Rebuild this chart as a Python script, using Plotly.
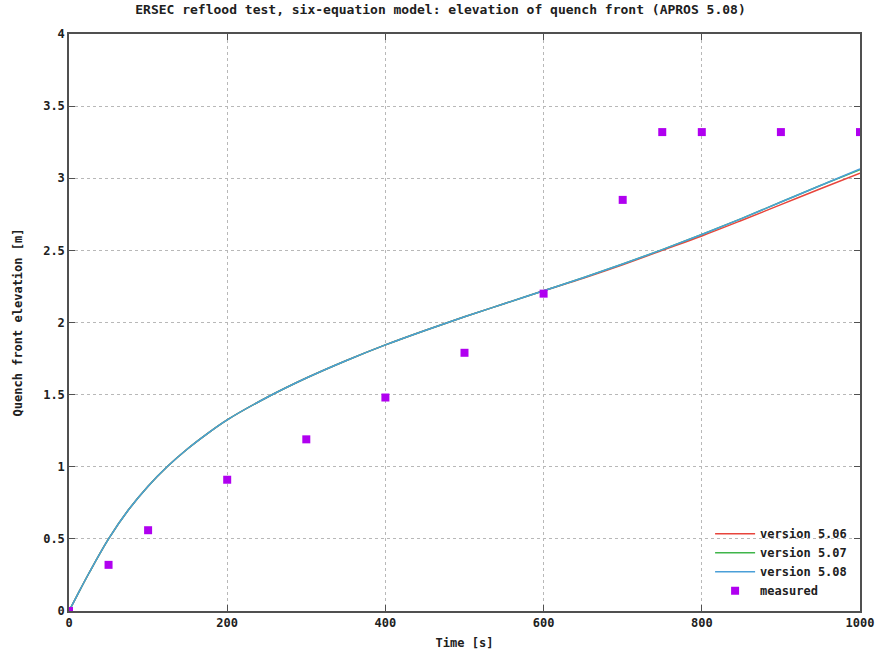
import plotly.graph_objects as go

# Time axis for model curves [s]
t_model = [0, 10, 25, 50, 75, 100, 125, 150, 175, 200, 250, 300, 350, 400, 450,
           500, 550, 600, 650, 700, 750, 800, 850, 900, 950, 1000]
# Quench front elevation [m] for each APROS version
v506 = [0, 0.105, 0.26, 0.50, 0.70, 0.865, 1.005, 1.125, 1.23, 1.325, 1.48, 1.615, 1.735,
        1.845, 1.945, 2.04, 2.13, 2.22, 2.307, 2.40, 2.50, 2.60, 2.707, 2.817, 2.927, 3.035]
v507 = [0, 0.105, 0.26, 0.50, 0.70, 0.865, 1.005, 1.125, 1.23, 1.325, 1.48, 1.615, 1.735,
        1.845, 1.945, 2.04, 2.13, 2.22, 2.31, 2.405, 2.505, 2.61, 2.72, 2.835, 2.95, 3.06]
v508 = [0, 0.105, 0.26, 0.50, 0.70, 0.865, 1.005, 1.125, 1.23, 1.325, 1.48, 1.615, 1.735,
        1.845, 1.945, 2.04, 2.13, 2.22, 2.31, 2.405, 2.505, 2.61, 2.72, 2.835, 2.95, 3.065]

# Measured data
t_meas = [0, 50, 100, 200, 300, 400, 500, 600, 700, 750, 800, 900, 1000]
z_meas = [0, 0.32, 0.56, 0.91, 1.19, 1.48, 1.79, 2.20, 2.85, 3.32, 3.32, 3.32, 3.32]

FONT = "DejaVu Sans Mono"
TXT = "#202020"

fig = go.Figure()
fig.add_trace(go.Scatter(x=t_model, y=v506, mode="lines", name="version 5.06",
                         line=dict(color="#e8453c", width=1.5, shape="spline")))
fig.add_trace(go.Scatter(x=t_model, y=v507, mode="lines", name="version 5.07",
                         line=dict(color="#3fb54a", width=1.5, shape="spline")))
fig.add_trace(go.Scatter(x=t_model, y=v508, mode="lines", name="version 5.08",
                         line=dict(color="#4a9fd8", width=1.5, shape="spline")))
fig.add_trace(go.Scatter(x=t_meas, y=z_meas, mode="markers", name="measured",
                         marker=dict(symbol="square", size=8, color="#b000f0")))

axis_common = dict(
    showgrid=True, gridcolor="#b8b8b8", griddash="dot", gridwidth=1,
    showline=True, linecolor="#505050", linewidth=1.5, mirror="ticks",
    ticks="inside", ticklen=6, tickcolor="#505050", zeroline=False,
    automargin=False,
    tickfont=dict(family=FONT, size=12, color=TXT, weight="bold"),
)

fig.update_layout(
    width=881, height=655,
    margin=dict(l=69, r=21, t=34, b=44),
    paper_bgcolor="white", plot_bgcolor="white",
    title=dict(text="ERSEC reflood test, six-equation model: elevation of quench front (APROS 5.08)",
               x=0.5, xanchor="center", y=0.993, yanchor="top",
               font=dict(family=FONT, size=13, color=TXT, weight="bold")),
    xaxis=dict(range=[0, 1000], dtick=200, **axis_common,
               title=dict(text="Time [s]", standoff=9,
                          font=dict(family=FONT, size=12, color=TXT, weight="bold"))),
    yaxis=dict(range=[0, 4], dtick=0.5, **axis_common,
               title=dict(text="Quench front elevation [m]", standoff=18,
                          font=dict(family=FONT, size=12, color=TXT, weight="bold"))),
    legend=dict(x=0.99, y=0.01, xanchor="right", yanchor="bottom",
                bgcolor="rgba(0,0,0,0)", borderwidth=0, tracegroupgap=0,
                itemwidth=40,
                font=dict(family=FONT, size=12, color=TXT, weight="bold")),
    showlegend=True,
)

fig.write_html("out.html")
